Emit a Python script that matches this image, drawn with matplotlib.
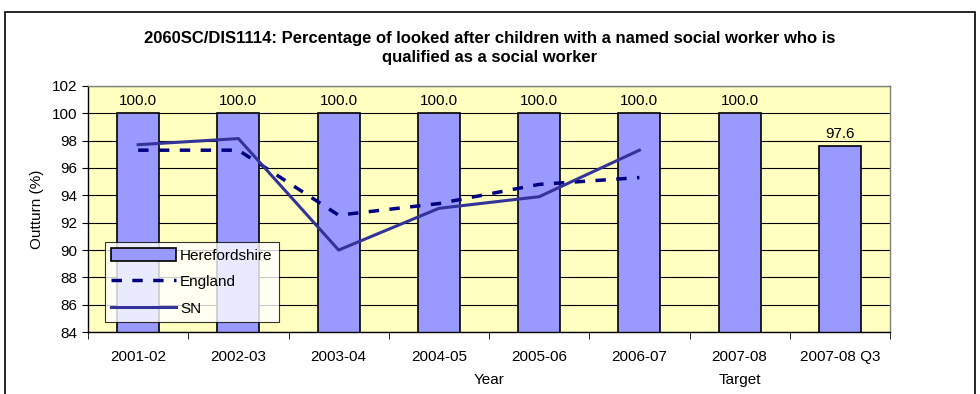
import matplotlib.pyplot as plt
import numpy as np
from matplotlib.patches import Rectangle

# Outturn (%) per year
years = ["2001-02", "2002-03", "2003-04", "2004-05", "2005-06", "2006-07", "2007-08", "2007-08 Q3"]
herefordshire = [100.0, 100.0, 100.0, 100.0, 100.0, 100.0, 100.0, 97.6]
england = [97.3, 97.3, 92.55, 93.4, 94.8, 95.3]
sn = [97.7, 98.15, 90.0, 93.05, 93.9, 97.3]

plt.rcParams["font.family"] = ["Liberation Sans", "DejaVu Sans"]

fig = plt.figure(figsize=(9.8, 3.94), dpi=100)
ax = fig.add_axes([0.0898, 0.157, 0.8184, 0.625])

# outer chart frame
fig.patches.append(Rectangle((5 / 980, -0.05), 970 / 980, 1 - 12 / 394 + 0.05,
                             transform=fig.transFigure, fill=False,
                             edgecolor="black", linewidth=1.2))

x = np.arange(len(years))
ax.set_facecolor("#FFFFC0")
bars = ax.bar(x, herefordshire, width=0.42, bottom=0, color="#9999FF",
              edgecolor="black", linewidth=1.2, label="Herefordshire", zorder=2)
eng_line, = ax.plot(x[:len(england)], england, color="#000080", linewidth=2.5,
                    linestyle=(0, (3, 3)), label="England", zorder=3)
sn_line, = ax.plot(x[:len(sn)], sn, color="#333399", linewidth=2.2,
                   label="SN", zorder=4)

for xi, v in zip(x, herefordshire):
    ax.text(xi, v + 0.35, f"{v:.1f}", ha="center", va="bottom", fontsize=11)

ax.set_ylim(84, 102)
ax.set_yticks(np.arange(84, 103, 2))
ax.yaxis.grid(True, color="black", linewidth=0.8, zorder=1)
ax.set_axisbelow(True)
ax.set_xlim(-0.5, len(years) - 0.5)
ax.set_xticks(x)
ax.set_xticklabels(years, fontsize=11)
ax.set_xticks(np.arange(-0.5, len(years)), minor=True)
ax.tick_params(axis="x", which="major", length=0, pad=13)
ax.tick_params(axis="x", which="minor", length=5, direction="out")
ax.tick_params(axis="y", labelsize=11, length=4, direction="out")
for s in ax.spines.values():
    s.set_color("black")
    s.set_linewidth(1)
ax.spines["top"].set_color("#808080")
ax.spines["right"].set_color("#808080")

ax.set_ylabel("Outturn (%)", fontsize=11, labelpad=6)
ax.text(3.5, -0.165, "Year", transform=ax.get_xaxis_transform(),
        ha="center", va="top", fontsize=11)
ax.text(6, -0.165, "Target", transform=ax.get_xaxis_transform(),
        ha="center", va="top", fontsize=11)

fig.text(0.5, 0.878, "2060SC/DIS1114: Percentage of looked after children with a named social worker who is\nqualified as a social worker",
         ha="center", va="center", fontsize=12, fontweight="bold", linespacing=1.3)

leg = ax.legend([bars, eng_line, sn_line], ["Herefordshire", "England", "SN"],
                loc="lower left", bbox_to_anchor=(0.012, 0.01), fontsize=11,
                frameon=True, fancybox=False, edgecolor="black",
                handlelength=4.2, handleheight=1.0, borderpad=0.4,
                labelspacing=0.75, handletextpad=0.3)
leg.get_frame().set_linewidth(0.8)
leg.set_zorder(10)

fig.savefig("out.png", dpi=100)
